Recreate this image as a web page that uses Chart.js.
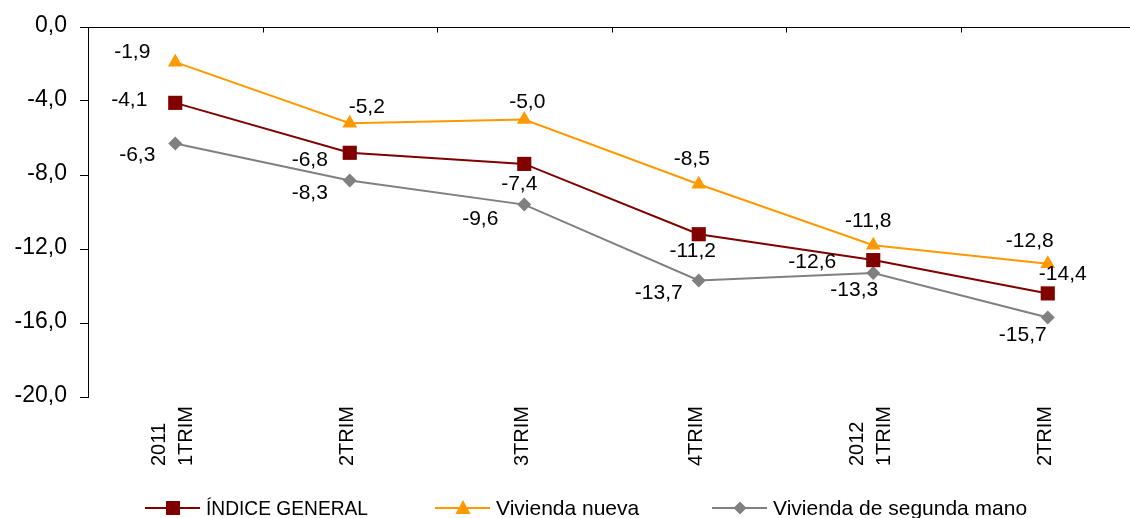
<!DOCTYPE html>
<html lang="es">
<head>
<meta charset="UTF-8">
<title>Índice de precios de vivienda</title>
<script src="https://cdn.jsdelivr.net/npm/chart.js"></script>
<style>
  html, body { margin: 0; padding: 0; background: #fff; overflow: hidden; }
  #wrap { position: relative; width: 1145px; height: 518px; }
</style>
</head>
<body>
<div id="wrap"><canvas id="chart"></canvas></div>

<script>
  // datos
  const categories = [['2011', '1TRIM'], ['2TRIM'], ['3TRIM'], ['4TRIM'], ['2012', '1TRIM'], ['2TRIM']];
  const indiceGeneral = [-4.1, -6.8, -7.4, -11.2, -12.6, -14.4];
  const viviendaNueva = [-1.9, -5.2, -5.0, -8.5, -11.8, -12.8];
  const segundaMano = [-6.3, -8.3, -9.6, -13.7, -13.3, -15.7];
  const yTicks = [0, -4, -8, -12, -16, -20];

  // desplazamiento de las etiquetas de datos (px)
  const labelOffsets = [
    [[-46, -3], [-40, 7], [-5, 20], [-6, 17], [-61, 2], [15, -19]],
    [[-43, -10], [17, -16], [3, -17], [-7, -25], [-5, -24], [-18, -23]],
    [[-38, 12], [-40, 13], [-44, 15], [-40, 13], [-19, 17], [-25, 18]]
  ];
  // leyenda: inicio de cada muestra y ancho maximo del texto
  const legendX = [145, 435, 712];
  const legendMaxW = [162, 150, 260];

  const FONT = '"Liberation Sans", Arial, sans-serif';
  const fmt = v => v.toFixed(1).replace('.', ',');

  const extras = {
    id: 'extras',
    afterDatasetsDraw(chart) {
      const ctx = chart.ctx;
      const xs = chart.scales.x;
      const ys = chart.scales.y;
      const area = chart.chartArea;
      ctx.save();

      // eje de categorias (arriba, en 0) con sus marcas
      ctx.strokeStyle = '#000';
      ctx.lineWidth = 1;
      const y0 = Math.round(ys.getPixelForValue(0)) + 0.5;
      ctx.beginPath();
      ctx.moveTo(area.left, y0);
      ctx.lineTo(area.right + 5, y0);
      ctx.stroke();
      for (let i = 1; i < categories.length; i++) {
        const x = Math.round((xs.getPixelForValue(i - 1) + xs.getPixelForValue(i)) / 2) + 0.5;
        ctx.beginPath();
        ctx.moveTo(x, y0);
        ctx.lineTo(x, y0 + 5);
        ctx.stroke();
      }

      // etiquetas del eje Y
      ctx.fillStyle = '#000';
      ctx.font = '23px ' + FONT;
      ctx.textAlign = 'right';
      ctx.textBaseline = 'middle';
      yTicks.forEach(v => {
        ctx.fillText(fmt(v), 67, ys.getPixelForValue(v) - 1);
      });

      // etiquetas de datos
      ctx.font = '21px ' + FONT;
      ctx.textAlign = 'center';
      chart.data.datasets.forEach((ds, di) => {
        const meta = chart.getDatasetMeta(di);
        meta.data.forEach((pt, i) => {
          const off = labelOffsets[di][i];
          ctx.fillText(fmt(ds.data[i]), pt.x + off[0], pt.y + off[1]);
        });
      });

      // etiquetas de categorias giradas
      ctx.font = '20px ' + FONT;
      ctx.textAlign = 'left';
      categories.forEach((lines, i) => {
        const cx = xs.getPixelForValue(i) - 2;
        lines.forEach((txt, k) => {
          const x = cx + (k - (lines.length - 1) / 2) * 27;
          ctx.save();
          ctx.translate(x, 466);
          ctx.rotate(-Math.PI / 2);
          ctx.fillText(txt, 0, 0);
          ctx.restore();
        });
      });

      // leyenda
      ctx.font = '21px ' + FONT;
      const ly = 508;
      chart.data.datasets.forEach((ds, di) => {
        const lx = legendX[di];
        ctx.strokeStyle = ds.borderColor;
        ctx.lineWidth = 2;
        ctx.beginPath();
        ctx.moveTo(lx, ly);
        ctx.lineTo(lx + 55, ly);
        ctx.stroke();
        const mx = lx + 28;
        ctx.fillStyle = ds.pointBackgroundColor;
        ctx.beginPath();
        if (ds.pointStyle === 'rect') {
          ctx.rect(mx - 7, ly - 7, 14, 14);
        } else if (ds.pointStyle === 'triangle') {
          ctx.moveTo(mx, ly - 8);
          ctx.lineTo(mx + 7.5, ly + 6);
          ctx.lineTo(mx - 7.5, ly + 6);
          ctx.closePath();
        } else {
          ctx.moveTo(mx, ly - 6.5);
          ctx.lineTo(mx + 6.5, ly);
          ctx.lineTo(mx, ly + 6.5);
          ctx.lineTo(mx - 6.5, ly);
          ctx.closePath();
        }
        ctx.fill();
        ctx.fillStyle = '#000';
        ctx.fillText(ds.label, lx + 61, ly + 1, legendMaxW[di]);
      });

      ctx.restore();
    }
  };

  new Chart(document.getElementById('chart'), {
    type: 'line',
    data: {
      labels: categories.map(c => c.join(' ')),
      datasets: [
        {
          label: 'ÍNDICE GENERAL',
          data: indiceGeneral,
          borderColor: '#800000',
          backgroundColor: '#800000',
          pointBackgroundColor: '#800000',
          pointBorderColor: '#800000',
          pointStyle: 'rect',
          pointRadius: 10,
          pointBorderWidth: 0,
          borderWidth: 2,
          tension: 0
        },
        {
          label: 'Vivienda nueva',
          data: viviendaNueva,
          borderColor: '#FF9900',
          backgroundColor: '#FF9900',
          pointBackgroundColor: '#FF9900',
          pointBorderColor: '#FF9900',
          pointStyle: 'triangle',
          pointRadius: 8.5,
          pointBorderWidth: 0,
          borderWidth: 2,
          tension: 0
        },
        {
          label: 'Vivienda de segunda mano',
          data: segundaMano,
          borderColor: '#808080',
          backgroundColor: '#808080',
          pointBackgroundColor: '#808080',
          pointBorderColor: '#808080',
          pointStyle: 'rectRot',
          pointRadius: 7,
          pointBorderWidth: 0,
          borderWidth: 2,
          tension: 0
        }
      ]
    },
    options: {
      responsive: true,
      maintainAspectRatio: false,
      animation: false,
      layout: { padding: { top: 27, right: 3, left: 0, bottom: 0 } },
      plugins: {
        legend: { display: false },
        tooltip: { enabled: false }
      },
      scales: {
        x: {
          type: 'category',
          offset: true,
          grid: { display: false },
          border: { display: false },
          ticks: { display: false },
          afterFit(scale) { scale.height = 121; }
        },
        y: {
          min: -20,
          max: 0,
          afterBuildTicks(scale) { scale.ticks = yTicks.map(v => ({ value: v })); },
          afterFit(scale) { scale.width = 88; },
          border: { display: true, color: '#000', width: 1 },
          grid: {
            drawTicks: true,
            drawOnChartArea: false,
            tickLength: 8,
            tickColor: '#000'
          },
          ticks: { display: false }
        }
      }
    },
    plugins: [extras]
  });
</script>
</body>
</html>
